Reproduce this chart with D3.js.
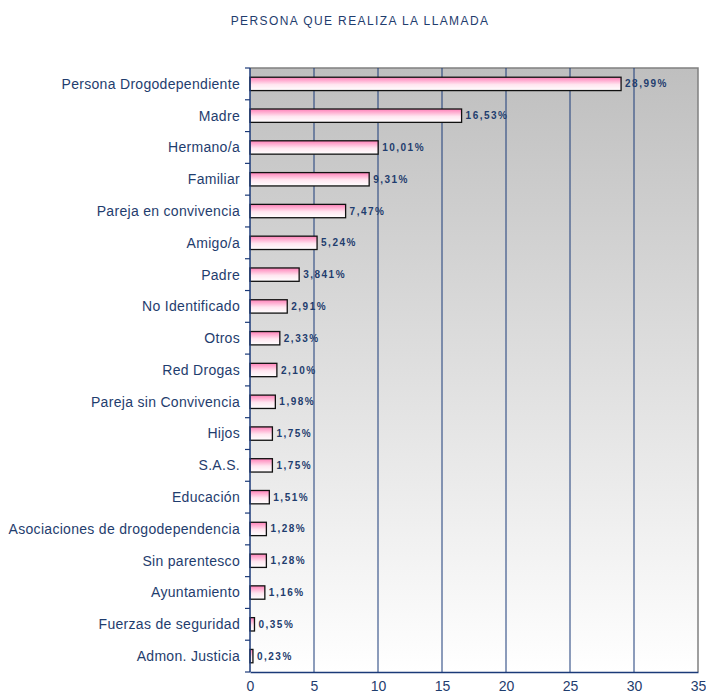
<!DOCTYPE html>
<html>
<head>
<meta charset="utf-8">
<script src="https://cdn.jsdelivr.net/npm/d3@7"></script>
<style>
  body { margin: 0; background: #fff; }
  text { font-family: "Liberation Sans", Arial, sans-serif; }
</style>
</head>
<body>
<div id="chart"></div>
<script>
// data
const categories = ["Persona Drogodependiente", "Madre", "Hermano/a", "Familiar", "Pareja en convivencia",
  "Amigo/a", "Padre", "No Identificado", "Otros", "Red Drogas", "Pareja sin Convivencia", "Hijos",
  "S.A.S.", "Educación", "Asociaciones de drogodependencia", "Sin parentesco", "Ayuntamiento",
  "Fuerzas de seguridad", "Admon. Justicia"];
const values = [28.99, 16.53, 10.01, 9.31, 7.47, 5.24, 3.84, 2.91, 2.33, 2.10, 1.98, 1.75, 1.75, 1.51,
  1.28, 1.28, 1.16, 0.35, 0.23];
const valueLabels = ["28,99%", "16,53%", "10,01%", "9,31%", "7,47%", "5,24%", "3,841%", "2,91%", "2,33%",
  "2,10%", "1,98%", "1,75%", "1,75%", "1,51%", "1,28%", "1,28%", "1,16%", "0,35%", "0,23%"];
const xTicks = [0, 5, 10, 15, 20, 25, 30, 35];
const title = "PERSONA QUE REALIZA LA LLAMADA";

const width = 706, height = 698;
const margin = {top: 68, right: 8, bottom: 26, left: 250};
const navy = "#1b3a78";
const textCol = "#1f3d6e";

const svg = d3.select("#chart").append("svg")
    .attr("width", width)
    .attr("height", height);

const defs = svg.append("defs");
let bg = defs.append("linearGradient").attr("id", "bgGrad")
    .attr("x1", 0).attr("y1", 0).attr("x2", 0).attr("y2", 1);
bg.append("stop").attr("offset", "0%").attr("stop-color", "#bfbfbf");
bg.append("stop").attr("offset", "100%").attr("stop-color", "#ffffff");

let barGrad = defs.append("linearGradient").attr("id", "barGrad")
    .attr("x1", 0).attr("y1", 0).attr("x2", 0).attr("y2", 1);
barGrad.append("stop").attr("offset", "0%").attr("stop-color", "#ff80b8");
barGrad.append("stop").attr("offset", "55%").attr("stop-color", "#ffe6f0");
barGrad.append("stop").attr("offset", "100%").attr("stop-color", "#ffffff");

const x = d3.scaleLinear()
    .domain([0, 35])
    .range([margin.left, width - margin.right]);

const y = d3.scaleBand()
    .domain(categories)
    .range([margin.top, height - margin.bottom])
    .paddingInner(0.58)
    .paddingOuter(0.29);

// plot background
svg.append("rect")
    .attr("x", x(0))
    .attr("y", margin.top)
    .attr("width", x(35) - x(0))
    .attr("height", height - margin.bottom - margin.top)
    .attr("fill", "url(#bgGrad)");

// top / right border
svg.append("path")
    .attr("d", "M" + x(0) + "," + margin.top + "H" + x(35) + "V" + (height - margin.bottom))
    .attr("fill", "none")
    .attr("stroke", "#808080")
    .attr("stroke-width", 1.5);

// gridlines
svg.append("g")
    .selectAll("line")
    .data(xTicks.slice(1, -1))
    .enter()
    .append("line")
    .attr("x1", d => x(d)).attr("x2", d => x(d))
    .attr("y1", margin.top).attr("y2", height - margin.bottom)
    .attr("stroke", navy)
    .attr("stroke-width", 1);

// bars
svg.append("g")
    .selectAll("rect")
    .data(values)
    .enter()
    .append("rect")
    .attr("x", x(0))
    .attr("y", (d, i) => y(categories[i]))
    .attr("width", d => x(d) - x(0))
    .attr("height", y.bandwidth())
    .attr("fill", "url(#barGrad)")
    .attr("stroke", "#111")
    .attr("stroke-width", 1.3);

// value labels
svg.append("g")
    .selectAll("text")
    .data(values)
    .enter()
    .append("text")
    .attr("x", d => x(d) + 4)
    .attr("y", (d, i) => y(categories[i]) + y.bandwidth() / 2)
    .attr("dy", "0.35em")
    .style("font-size", "10px")
    .style("font-weight", "bold")
    .style("letter-spacing", "1.5px")
    .attr("fill", textCol)
    .text((d, i) => valueLabels[i]);

// x axis
const xAxis = svg.append("g")
    .attr("transform", "translate(0," + (height - margin.bottom) + ")")
    .call(d3.axisBottom(x).tickValues(xTicks).tickSize(0).tickPadding(9).tickSizeOuter(0));
xAxis.select(".domain").attr("stroke", navy).attr("stroke-width", 1.5);
xAxis.selectAll(".tick text")
    .attr("fill", textCol)
    .attr("dy", "0.71em")
    .style("font-size", "14px");

// y axis with ticks at band boundaries
const yAxis = svg.append("g")
    .attr("transform", "translate(" + x(0) + ",0)");
yAxis.append("line")
    .attr("y1", margin.top).attr("y2", height - margin.bottom)
    .attr("stroke", navy).attr("stroke-width", 1.5);
const step = y.step();
yAxis.selectAll(".bt")
    .data(d3.range(categories.length + 1))
    .enter()
    .append("line")
    .attr("class", "bt")
    .attr("x1", -5).attr("x2", 0)
    .attr("y1", i => margin.top + i * step)
    .attr("y2", i => margin.top + i * step)
    .attr("stroke", navy).attr("stroke-width", 1.2);
yAxis.selectAll("text")
    .data(categories)
    .enter()
    .append("text")
    .attr("x", -10)
    .attr("y", d => y(d) + y.bandwidth() / 2)
    .attr("dy", "0.35em")
    .attr("text-anchor", "end")
    .attr("fill", textCol)
    .style("font-size", "14px")
    .style("letter-spacing", "0.3px")
    .text(d => d);

// title
svg.append("text")
    .attr("x", 360)
    .attr("y", 25)
    .attr("text-anchor", "middle")
    .attr("fill", textCol)
    .style("font-size", "12px")
    .style("letter-spacing", "1.4px")
    .text(title);
</script>
</body>
</html>
